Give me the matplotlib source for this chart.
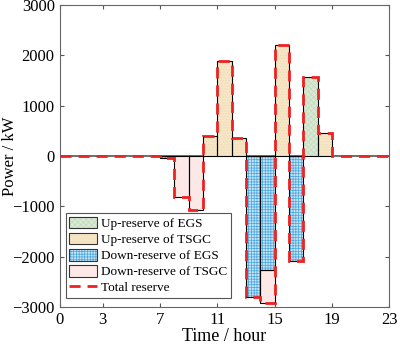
import numpy as np
import matplotlib
matplotlib.use('Agg')
import matplotlib.pyplot as plt
from matplotlib.patches import Patch
from matplotlib.lines import Line2D

plt.rcParams['font.family'] = 'Liberation Serif'
plt.rcParams['hatch.linewidth'] = 0.5

hours = np.arange(23)  # bar starts, each bar spans [h, h+1]
up_egs = [0, 0, 0, 0, 0, 0, 0, 0, 0, 0, 0, 0, 0, 0, 0, 0, 0, 1570, 0, 0, 0, 0, 0]
up_tsgc = [0, 0, 0, 0, 0, 0, 0, 0, 0, 0, 400, 1890, 360, 0, 0, 2200, 0, 0, 450, 0, 0, 0, 0]
down_egs = [0, 0, 0, 0, 0, 0, 0, -50, 0, 0, 0, 0, 0, -2810, -2270, 0, -2090, 0, 0, 0, 0, 0, 0]
down_tsgc = [0, 0, 0, 0, 0, 0, 0, 0, -820, -1080, 0, 0, 0, 0, -650, 0, 0, 0, 0, 0, 0, 0, 0]
xticks = [0, 3, 7, 11, 15, 19, 23]
yticks = [-3000, -2000, -1000, 0, 1000, 2000, 3000]

up_egs = np.array(up_egs)
up_tsgc = np.array(up_tsgc)
down_egs = np.array(down_egs)
down_tsgc = np.array(down_tsgc)
total = up_egs + up_tsgc + down_egs + down_tsgc

# (fill, hatch colour, hatch pattern)
styles = {
    'Up-reserve of EGS': ('#d9e9d4', '#c4dabd', '//////\\\\\\\\\\\\'),
    'Up-reserve of TSGC': ('#f7e6c6', '#eedbb5', '......'),
    'Down-reserve of EGS': ('#c4e4f7', '#4aa6e0', '++++++'),
    'Down-reserve of TSGC': ('#fde8e8', '#fde8e8', None),
}

fig = plt.figure(figsize=(4.0, 3.46), dpi=100)
ax = fig.add_axes([0.149, 0.113, 0.824, 0.873])

ax.axhline(0, color='#555555', lw=1.2, zorder=1)

series = [
    ('Up-reserve of EGS', up_egs, np.zeros(23)),
    ('Up-reserve of TSGC', up_tsgc, up_egs),
    ('Down-reserve of EGS', down_egs, np.zeros(23)),
    ('Down-reserve of TSGC', down_tsgc, down_egs),
]
handles = []
for name, vals, base in series:
    fc, hc, hatch = styles[name]
    m = vals != 0
    ax.bar(hours[m], vals[m], bottom=base[m], width=1.0, align='edge',
           facecolor=fc, edgecolor=hc, hatch=hatch, lw=0, zorder=2)
    ax.bar(hours[m], vals[m], bottom=base[m], width=1.0, align='edge',
           facecolor='none', edgecolor='black', lw=0.8, zorder=3)
    handles.append((Patch(facecolor=fc, edgecolor=hc, hatch=hatch, lw=0),
                    Patch(facecolor='none', edgecolor='#333333', lw=0.8)))

edges = np.arange(24)
ax.stairs(total, edges, baseline=None, color='#ee2222', lw=2.0,
          linestyle=(0, (4, 2.5)), zorder=4)
handles.append(Line2D([], [], color='#ee2222', lw=2.0, linestyle=(0, (4, 2.5))))
labels = list(styles.keys()) + ['Total reserve']

ax.set_xlim(0, 23)
ax.set_ylim(-3000, 3000)
ax.set_xticks(xticks)
ax.set_yticks(yticks)
ax.tick_params(direction='in', top=True, right=True, labelsize=12, length=3,
               color='#555555')
for s in ax.spines.values():
    s.set_color('#666666')
    s.set_linewidth(0.8)
ax.set_xlabel('Time / hour', fontsize=13, labelpad=0)
ax.set_ylabel('Power / kW', fontsize=12)
ax.yaxis.set_label_coords(-0.125, 0.5)

leg = ax.legend(handles, labels, loc='lower left', bbox_to_anchor=(0.01, 0.02),
                fontsize=9.5, handlelength=2.1, handleheight=1.0,
                handletextpad=0.3, labelspacing=0.2, borderpad=0.3,
                borderaxespad=0.2, fancybox=False, framealpha=1,
                edgecolor='#555555')
leg.get_frame().set_linewidth(0.8)

fig.savefig('out.png', dpi=100)
